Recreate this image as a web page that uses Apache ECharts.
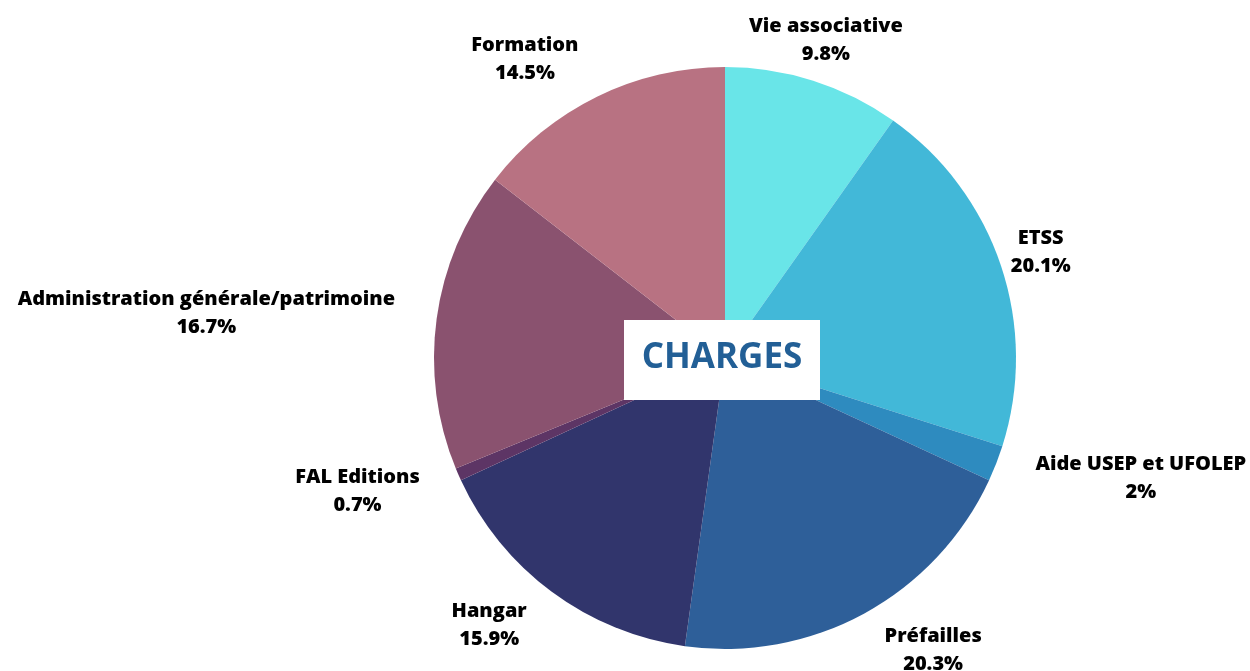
<!DOCTYPE html>
<html>
<head>
<meta charset="utf-8">
<script src="https://cdn.jsdelivr.net/npm/echarts@6/dist/echarts.min.js"></script>
<style>
  html, body { margin: 0; padding: 0; background: #fff; }
  #chart { width: 1250px; height: 671px; }
</style>
</head>
<body>
<div id="chart"></div>
<script>
// données du graphique
const categories = ['Vie associative', 'ETSS', 'Aide USEP et UFOLEP', 'Préfailles', 'Hangar', 'FAL Editions', 'Administration générale/patrimoine', 'Formation'];
const values = [9.8, 20.1, 2, 20.3, 15.9, 0.7, 16.7, 14.5];
const colors = ['#69e5e8', '#42b8d8', '#2e8bbf', '#2e5f99', '#31356c', '#5d3565', '#8a526f', '#b87282'];

const cx = 725;
const cy = 358;
const radius = 291;
const labelRadius = 333;

// angle médian de chaque part (depuis le haut, sens horaire)
const total = values.reduce((a, b) => a + b, 0);
let acc = 0;
const midAngles = values.map(v => {
  const mid = (acc + v / 2) / total * Math.PI * 2;
  acc += v;
  return mid;
});

const chart = echarts.init(document.getElementById('chart'));

const option = {
  animation: false,
  series: [
    {
      type: 'pie',
      center: [cx, cy],
      radius: radius,
      startAngle: 90,
      clockwise: true,
      color: colors,
      itemStyle: { borderWidth: 0 },
      label: {
        show: true,
        position: 'outside',
        formatter: p => p.name + '\n' + p.value + '%',
        fontFamily: 'Open Sans',
        fontWeight: 800,
        fontSize: 20,
        lineHeight: 28,
        color: '#000',
        overflow: 'none'
      },
      labelLine: { show: false },
      labelLayout: params => {
        const a = midAngles[params.dataIndex];
        const ax = cx + labelRadius * Math.sin(a);
        const ay = cy - labelRadius * Math.cos(a);
        const w = params.labelRect.width;
        let x = ax;
        if (a < Math.PI / 2) {
          x = ax;
        } else if (a < Math.PI) {
          x = ax + w / 2;
        } else {
          x = ax - w / 2;
        }
        return { x: x, y: ay, align: 'center', verticalAlign: 'middle' };
      },
      data: categories.map((name, i) => ({ name: name, value: values[i] }))
    }
  ],
  graphic: [
    {
      type: 'rect',
      shape: { x: 624, y: 320, width: 196, height: 80 },
      style: { fill: '#ffffff' },
      z: 100
    },
    {
      type: 'text',
      x: 722,
      y: 358,
      style: {
        text: 'CHARGES',
        fill: '#225f96',
        font: 'bold 35px "Open Sans"',
        textAlign: 'center',
        textVerticalAlign: 'middle'
      },
      z: 101
    }
  ]
};

chart.setOption(option);
</script>
</body>
</html>
